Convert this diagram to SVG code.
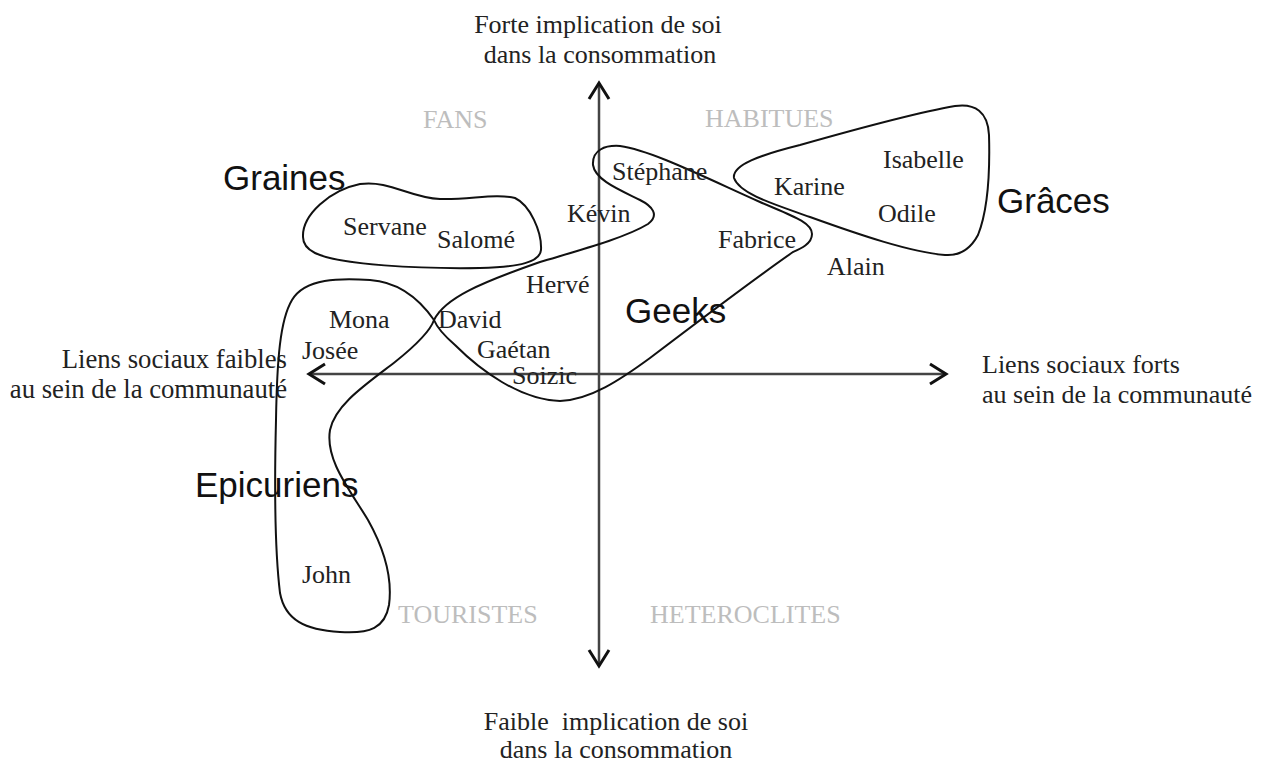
<svg xmlns="http://www.w3.org/2000/svg" width="1262" height="764" viewBox="0 0 1262 764">
<defs>
<style>
.t{font-family:"Liberation Serif","Times New Roman",serif;font-size:26px;fill:#222}
.q{font-family:"Liberation Serif","Times New Roman",serif;font-size:26px;fill:#bdbdbd}
.g{font-family:"Liberation Sans",Arial,sans-serif;font-size:35px;fill:#111}
.shape{fill:none;stroke:#111;stroke-width:2}
.axis{stroke:#444;stroke-width:2.5;fill:none}
</style>
<marker id="arr" markerUnits="userSpaceOnUse" markerWidth="22" markerHeight="26" refX="18" refY="12" orient="auto-start-reverse">
<path d="M2,2 L18,12 L2,22" fill="none" stroke="#111" stroke-width="3"/>
</marker>
</defs>
<rect width="1262" height="764" fill="#fff"/>
<g id="connectors">
<line class="axis" x1="599" y1="83" x2="599" y2="666" marker-start="url(#arr)" marker-end="url(#arr)"/>
<line class="axis" x1="309" y1="374" x2="946" y2="374" marker-start="url(#arr)" marker-end="url(#arr)"/>
</g>
<g id="axis-labels">
<text class="t" x="598" y="33" text-anchor="middle">Forte implication de soi</text>
<text class="t" x="600" y="63" text-anchor="middle">dans la consommation</text>
<text class="t" x="616" y="730" text-anchor="middle" xml:space="preserve">Faible  implication de soi</text>
<text class="t" x="616" y="758" text-anchor="middle">dans la consommation</text>
<text class="t" x="982" y="373">Liens sociaux forts</text>
<text class="t" x="982" y="403">au sein de la communauté</text>
<text class="t" x="287" y="368" text-anchor="end" style="font-size:26.7px">Liens sociaux faibles</text>
<text class="t" x="287" y="398" text-anchor="end" style="font-size:26.7px">au sein de la communauté</text>
</g>
<g id="quadrants">
<text class="q" x="423" y="128">FANS</text>
<text class="q" x="705" y="127">HABITUES</text>
<text class="q" x="398" y="623">TOURISTES</text>
<text class="q" x="650" y="623">HETEROCLITES</text>
</g>
<g id="graines">
<path class="shape" d="M303,237 C302,215 330,190 360,184 C390,180 410,198 440,199 C470,200 495,193 515,198 C530,205 542,232 541,250 C540,262 520,267 480,268 C420,269 340,265 315,253 C305,248 303,242 303,237 Z"/>
<text class="g" x="223" y="190">Graines</text>
<text class="t" x="343" y="235">Servane</text>
<text class="t" x="437" y="248">Salomé</text>
</g>
<g id="geeks">
<path class="shape" d="M434,320 C445,298 480,283 540,262 C580,250 625,238 648,224 C660,215 652,206 640,200 C620,190 595,180 593,165 C592,150 605,145 620,146 C650,150 700,175 760,202 C790,215 812,222 812,234 C812,244 800,249 793,252 C760,275 700,320 650,358 C620,380 590,400 560,401 C520,400 480,370 455,345 C440,332 436,325 434,320 Z"/>
<text class="g" x="625" y="323">Geeks</text>
<text class="t" x="612" y="180">Stéphane</text>
<text class="t" x="567" y="222">Kévin</text>
<text class="t" x="718" y="248">Fabrice</text>
<text class="t" x="526" y="293">Hervé</text>
<text class="t" x="438" y="328">David</text>
<text class="t" x="477" y="358">Gaétan</text>
<text class="t" x="512" y="384">Soizic</text>
</g>
<g id="graces">
<path class="shape" d="M734,178 C732,165 760,155 800,145 C860,128 920,112 955,106 C975,103 988,112 989,135 C990,170 988,210 978,235 C970,250 958,256 945,255 C910,252 860,235 810,217 C780,206 740,195 734,178 Z"/>
<text class="g" x="997" y="213">Grâces</text>
<text class="t" x="883" y="168">Isabelle</text>
<text class="t" x="774" y="195">Karine</text>
<text class="t" x="878" y="222">Odile</text>
</g>
<g id="alain">
<text class="t" x="827" y="275">Alain</text>
</g>
<g id="epicuriens">
<path class="shape" d="M434,320 C420,300 400,282 370,280 C340,278 305,278 292,300 C280,320 277,360 276,420 C274,500 276,560 280,593 C285,620 305,630 340,632 C370,634 385,628 389,605 C393,575 382,545 368,520 C350,490 325,460 330,430 C335,405 365,385 395,362 C415,346 430,332 434,320 Z"/>
<text class="g" x="195" y="497">Epicuriens</text>
<text class="t" x="329" y="328">Mona</text>
<text class="t" x="302" y="359">Josée</text>
<text class="t" x="302" y="583">John</text>
</g>
</svg>
